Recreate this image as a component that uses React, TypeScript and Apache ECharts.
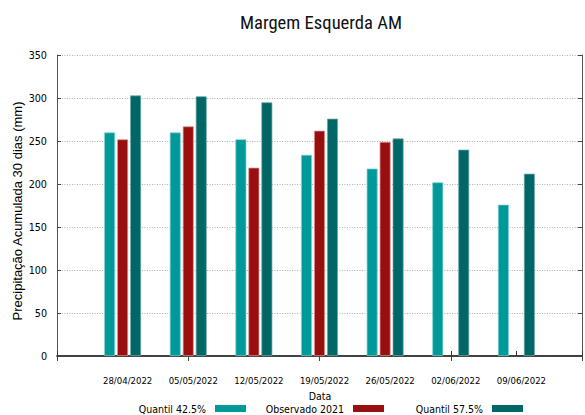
import React, { useEffect, useRef } from "react";
import * as echarts from "echarts";

const categories = ["28/04/2022", "05/05/2022", "12/05/2022", "19/05/2022", "26/05/2022", "02/06/2022", "09/06/2022"];
const quantil425 = [260, 260, 252, 234, 218, 202, 176];
const observado2021: (number | null)[] = [252, 267, 219, 262, 249, null, null];
const quantil575 = [303, 302, 295, 276, 253, 240, 212];
const yTicks = [0, 50, 100, 150, 200, 250, 300, 350];

const COND = "'DejaVu Sans Condensed', 'Roboto Condensed', sans-serif";
const TITLEFONT = "'Roboto Condensed', 'DejaVu Sans Condensed', sans-serif";
const SANS = "'Liberation Sans', Arial, sans-serif";

const seriesNames = ["Quantil 42.5%", "Observado 2021", "Quantil 57.5%"];
const colors = ["#009999", "#990e0e", "#006666"];
const borders = ["rgba(128,210,210,0.9)", "rgba(220,150,150,0.9)", "rgba(110,170,170,0.9)"];

export default function App() {
  const ref = useRef<HTMLDivElement>(null);
  useEffect(() => {
    if (!ref.current) return;
    const chart = echarts.init(ref.current, undefined, { renderer: "svg" });
    const axisData = ["", ...categories, ""];
    const pad = (arr: (number | null)[]) => [null, ...arr, null];
    const allValues = [quantil425, observado2021, quantil575];
    const legendRights = [339, 201, 62];
    chart.setOption({
      animation: false,
      backgroundColor: "#ffffff",
      title: {
        text: "Margem Esquerda AM",
        left: 316,
        top: 8,
        textAlign: "center",
        textStyle: { fontFamily: TITLEFONT, fontSize: 18.6, fontWeight: "normal", color: "#111" },
      },
      legend: seriesNames.map((n, i) => ({
        data: [{ name: n, icon: "rect" }],
        right: legendRights[i],
        top: 403,
        align: "right",
        orient: "horizontal",
        padding: 0,
        itemWidth: 31,
        itemHeight: 7,
        selectedMode: false,
        itemStyle: { borderWidth: 0 },
        textStyle: { fontFamily: COND, fontSize: 10.5, color: "#000", padding: [0, 4, 0, 0] },
      })),
      grid: { left: 57, right: 0, top: 55, bottom: 59, containLabel: false },
      xAxis: [
        {
          type: "category",
          data: axisData,
          boundaryGap: false,
          position: "bottom",
          axisLine: { show: true, lineStyle: { color: "#000", width: 1.5 } },
          axisTick: { show: true, inside: true, length: 5, lineStyle: { color: "#333" } },
          axisLabel: {
            fontFamily: COND,
            fontSize: 9.5,
            color: "#000",
            margin: 19,
            padding: [0, 0, 0, 10],
            interval: 0,
          },
          splitLine: { show: false },
        },
        {
          type: "category",
          data: axisData,
          boundaryGap: false,
          position: "top",
          axisLine: { show: true, lineStyle: { color: "#444", width: 1 } },
          axisTick: { show: true, inside: true, length: 5, lineStyle: { color: "#444" } },
          axisLabel: { show: false },
          splitLine: { show: false },
        },
      ],
      yAxis: [
        {
          type: "value",
          min: yTicks[0],
          max: yTicks[yTicks.length - 1],
          interval: 50,
          axisLine: { show: true, lineStyle: { color: "#555", width: 1 } },
          axisTick: { show: true, inside: true, length: 4, lineStyle: { color: "#444" } },
          axisLabel: { fontFamily: COND, fontSize: 10.7, color: "#000", margin: 10 },
          splitLine: { show: true, lineStyle: { color: "#b0b0b0", type: [1, 1.5], width: 1 } },
        },
        {
          type: "value",
          position: "right",
          min: yTicks[0],
          max: yTicks[yTicks.length - 1],
          interval: 50,
          axisLine: { show: true, lineStyle: { color: "#555", width: 1 } },
          axisTick: { show: true, inside: true, length: 4, lineStyle: { color: "#444" } },
          axisLabel: { show: false },
          splitLine: { show: false },
        },
      ],
      graphic: [
        {
          type: "text",
          x: 320,
          y: 396,
          style: { text: "Data", fontFamily: COND, fontSize: 10.5, fill: "#000", align: "center", verticalAlign: "middle" },
        },
        {
          type: "text",
          x: 17,
          y: 211,
          rotation: Math.PI / 2,
          style: {
            text: "Precipitação Acumulada 30 dias (mm)",
            fontFamily: SANS,
            fontSize: 13,
            fill: "#000",
            align: "center",
            verticalAlign: "middle",
          },
        },
      ],
      series: seriesNames.map((n, i) => ({
        name: n,
        type: "bar",
        xAxisIndex: 0,
        yAxisIndex: 0,
        data: pad(allValues[i]),
        barWidth: 11,
        barGap: "18%",
        itemStyle: { color: colors[i], borderColor: borders[i], borderWidth: 0.8 },
      })),
    });
    return () => chart.dispose();
  }, []);
  return <div ref={ref} style={{ width: 585, height: 415, position: "absolute", left: 0, top: 0 }} />;
}
